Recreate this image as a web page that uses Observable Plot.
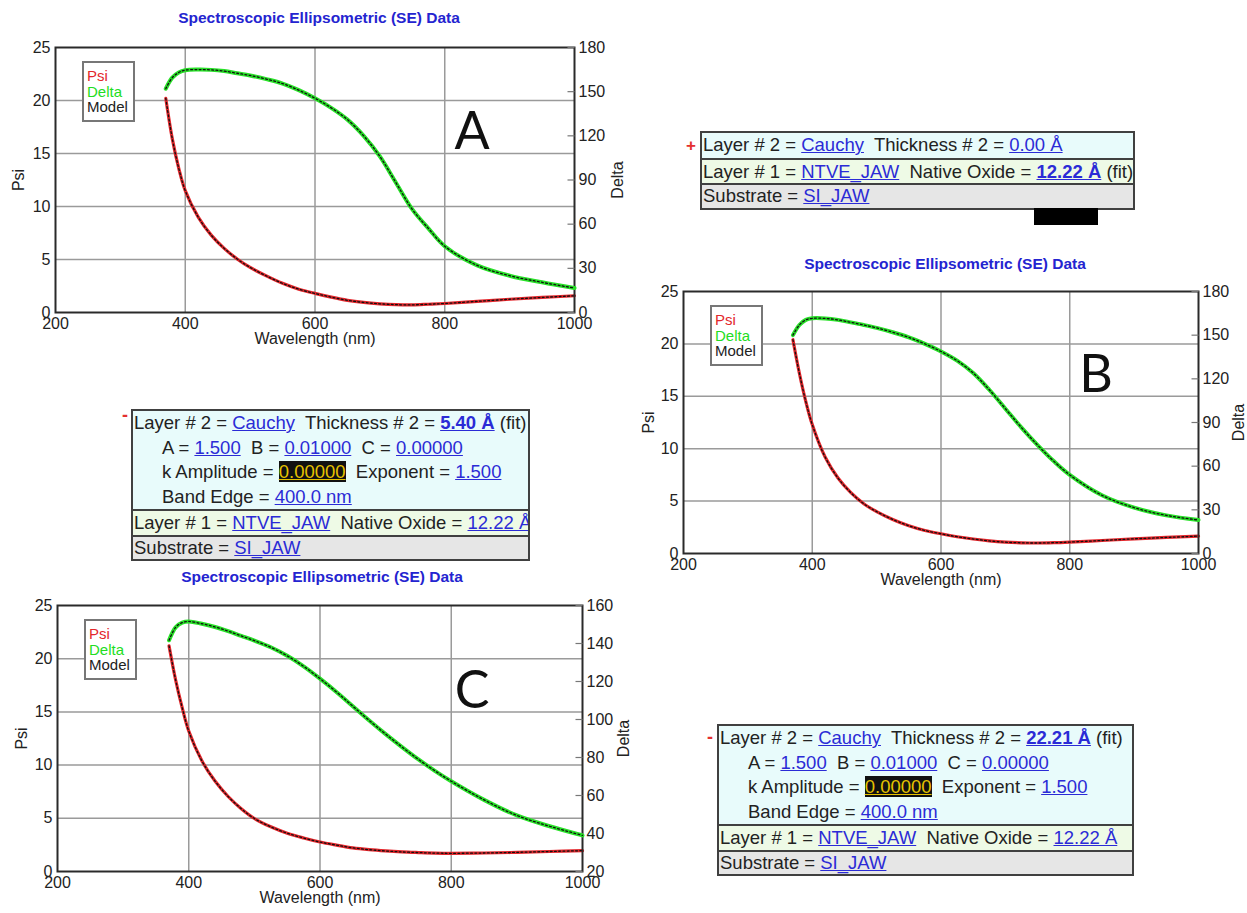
<!DOCTYPE html>
<html><head><meta charset="utf-8">
<script src="https://cdn.jsdelivr.net/npm/d3@7"></script>
<script src="https://cdn.jsdelivr.net/npm/@observablehq/plot@0.6"></script>
<style>
body{margin:0;background:#fff;width:1247px;height:913px;overflow:hidden;position:relative;font-family:"Liberation Sans",Arial,sans-serif;}
.panel{position:absolute}
.panel svg{position:absolute;left:0;top:0}
.title{position:absolute;transform:translate(-50%,-50%);color:#2424d0;font-weight:bold;font-size:15.5px;white-space:nowrap;line-height:1}
.legend{position:absolute;border:2px solid #777;background:#fff;font-size:15px;line-height:15.5px;padding:5px 5px 5px 3px;white-space:nowrap}
.letter{position:absolute;font-family:Lato,"Open Sans",sans-serif;font-size:52px;line-height:1;transform:translate(-50%,-50%);color:#111}
.box{position:absolute;border:2px solid #404040;font-size:18.5px;color:#222;overflow:hidden}
.row{white-space:pre;padding-left:1px;line-height:23px}
.l2 .row{line-height:24.5px}
.l2{background:#e8fbfb}
.l1{background:#eefae6;border-top:2px solid #404040}
.l1 .row{line-height:23.5px}
.sub{background:#e6e6e6;border-top:2px solid #404040}
.sub .row{line-height:22.5px}
.lk{color:#2b2bd6;text-decoration:underline}
.ind{padding-left:29px}
.hl{background:#111;color:#e6c200;text-decoration:underline}
.mark{position:absolute;color:#e43030;font-weight:bold;transform:translate(-50%,-50%);line-height:1}
</style>
</head><body>
<script>
// ---------- data ----------
const wavelength = [370,380,390,400,420,440,460,480,500,525,550,575,600,625,650,675,700,725,750,775,800,850,900,950,1000];
const psiA   = [20.2,16.4,13.6,11.5,9.0,7.3,6.05,5.05,4.25,3.45,2.75,2.2,1.8,1.45,1.15,0.95,0.82,0.74,0.72,0.78,0.85,1.05,1.25,1.42,1.58];
const deltaA = [152,159.5,163,164.6,165,164.8,164,162.5,161,158.5,155.5,151,145.5,139,131,120,106,88,70,57,45,32,25,20.5,16.6];
const psiB   = [20.4,17.2,14.5,12.3,9.2,7.2,5.8,4.75,4.0,3.25,2.65,2.2,1.88,1.6,1.38,1.2,1.08,1.02,1.0,1.03,1.09,1.24,1.4,1.53,1.66];
const deltaB = [150,157,160.5,161.6,161.5,160.5,158.8,157,155,152,148.5,144,138.8,132.5,124,112.5,99.5,86.5,74.5,63.5,54,40,31.5,26.2,23];
const psiC   = [21.2,18.0,15.4,13.2,10.4,8.5,7.05,5.9,4.98,4.2,3.6,3.15,2.77,2.48,2.22,2.05,1.93,1.84,1.78,1.73,1.71,1.74,1.8,1.88,1.96];
const deltaC = [141.7,148.5,151,151.6,150.4,148.7,146.5,144,141.5,138,133.5,128,121.5,114.5,107,99.5,92.3,85.5,79,73,67.5,57.7,49.5,43.8,39];

const xTicks = [200,400,600,800,1000];
const xGrid = [400,600,800];
const psiTicks = [0,5,10,15,20,25];
const psiGrid = [5,10,15,20];
const deltaTicksAB = [0,30,60,90,120,150,180];
const deltaTicksC = [20,40,60,80,100,120,140,160];
const legendLabels = ["Psi","Delta","Model"];
const legendColors = ["#e3262b","#22dd22","#222"];
const chartTitle = "Spectroscopic Ellipsometric (SE) Data";

// ---------- drawing ----------
const style = {background:"transparent", fontSize:"16px", fontFamily:"Liberation Sans, Arial, sans-serif", color:"#222", overflow:"visible"};
const fmt = d => String(d);
// short inward tick at the right edge of the frame
const inwardTick = {draw(ctx){ ctx.moveTo(-7,0); ctx.lineTo(0,0); }};

function panel(cfg){
  const rows = wavelength.map((w,i)=>({wl:w, psi:cfg.psi[i], delta:cfg.delta[i]}));
  const div = document.createElement("div");
  div.className = "panel";
  div.style.left = cfg.left+"px"; div.style.top = cfg.top+"px";
  div.style.width = cfg.width+"px"; div.style.height = cfg.height+"px";
  const common = {width:cfg.width, height:cfg.height, marginLeft:cfg.ml, marginRight:cfg.mr, marginTop:cfg.mt, marginBottom:cfg.mb, style};
  const psiPlot = Plot.plot({...common,
    x:{domain:[200,1000]}, y:{domain:[0,25]},
    marks:[
      Plot.gridX(xGrid, {stroke:"#9a9a9a", strokeOpacity:1, strokeWidth:1.5}),
      Plot.gridY(psiGrid, {stroke:"#9a9a9a", strokeOpacity:1, strokeWidth:1.5}),
      Plot.line(rows, {x:"wl", y:"psi", stroke:"#e3262b", strokeWidth:3.2, curve:"catmull-rom"}),
      Plot.line(rows, {x:"wl", y:"psi", stroke:"#111", strokeWidth:1.3, strokeDasharray:"1.8,2.4", curve:"catmull-rom"}),
      Plot.frame({stroke:"#2a2a2a", strokeWidth:2}),
      Plot.axisX(xTicks, {tickSize:0, tickPadding:5, tickFormat:fmt, label:"Wavelength (nm)", labelArrow:"none", labelAnchor:"center", labelOffset:31}),
      Plot.axisY(psiTicks, {anchor:"left", tickSize:0, tickPadding:5, tickFormat:fmt, label:"Psi", labelArrow:"none", labelAnchor:"center", labelOffset:cfg.psiOff})
    ]});
  const deltaPlot = Plot.plot({...common,
    x:{domain:[200,1000], axis:null}, y:{domain:cfg.deltaDomain},
    marks:[
      Plot.dot(cfg.deltaTicks, {y:d=>d, frameAnchor:"right", symbol:inwardTick, stroke:"#777", strokeWidth:1.2, fill:"none", r:3}),
      Plot.line(rows, {x:"wl", y:"delta", stroke:"#28e028", strokeWidth:4, curve:"catmull-rom"}),
      Plot.line(rows, {x:"wl", y:"delta", stroke:"#111", strokeWidth:1.3, strokeDasharray:"1.8,2.4", curve:"catmull-rom"}),
      Plot.axisY(cfg.deltaTicks, {anchor:"right", tickSize:0, tickPadding:4, tickFormat:fmt, label:"Delta", labelArrow:"none", labelAnchor:"center", labelOffset:cfg.deltaOff})
    ]});
  div.appendChild(psiPlot);
  div.appendChild(deltaPlot);
  document.body.appendChild(div);

  const t = document.createElement("div");
  t.className = "title"; t.textContent = chartTitle;
  t.style.left = cfg.titleX+"px"; t.style.top = cfg.titleY+"px";
  document.body.appendChild(t);

  const lg = document.createElement("div");
  lg.className = "legend";
  lg.style.left = (cfg.left+cfg.ml+27)+"px"; lg.style.top = (cfg.top+cfg.mt+14)+"px";
  lg.innerHTML = legendLabels.map((l,i)=>`<div style="color:${legendColors[i]}">${l}</div>`).join("");
  document.body.appendChild(lg);

  const L = document.createElement("div");
  L.className = "letter"; L.textContent = cfg.letter;
  L.style.left = cfg.letterX+"px"; L.style.top = cfg.letterY+"px";
  document.body.appendChild(L);
}

panel({left:0, top:0, width:640, height:350, ml:55, mr:66, mt:47, mb:38,
  psi:psiA, delta:deltaA, deltaDomain:[0,180], deltaTicks:deltaTicksAB, psiOff:43, deltaOff:48,
  titleX:319, titleY:18, letter:"A", letterX:472, letterY:129});
panel({left:630, top:245, width:617, height:355, ml:53, mr:49, mt:46, mb:47,
  psi:psiB, delta:deltaB, deltaDomain:[0,180], deltaTicks:deltaTicksAB, psiOff:41, deltaOff:45,
  titleX:945, titleY:264, letter:"B", letterX:1096, letterY:372});
panel({left:0, top:560, width:650, height:353, ml:57, mr:68, mt:45, mb:42,
  psi:psiC, delta:deltaC, deltaDomain:[20,160], deltaTicks:deltaTicksC, psiOff:42, deltaOff:46,
  titleX:322, titleY:577, letter:"C", letterX:472, letterY:688});

// ---------- layer boxes ----------
function lk(s,b){return b?`<b class="lk">${s}</b>`:`<span class="lk">${s}</span>`;}
function box(left, top, width, layer2Lines, layer1, substrate){
  const d = document.createElement("div");
  d.className = "box";
  d.style.left = left+"px"; d.style.top = top+"px"; d.style.width = width+"px";
  d.innerHTML = `<div class="l2">${layer2Lines.map(l=>`<div class="row${l.ind?' ind':''}">${l.html}</div>`).join("")}</div>`+
    `<div class="l1"><div class="row">${layer1}</div></div>`+
    `<div class="sub"><div class="row">${substrate}</div></div>`;
  document.body.appendChild(d);
}
function mark(ch, x, y, size){
  const m = document.createElement("div");
  m.className = "mark"; m.textContent = ch;
  m.style.left = x+"px"; m.style.top = y+"px"; m.style.fontSize = size+"px";
  document.body.appendChild(m);
}

box(700, 131, 431,
  [{html:`Layer # 2 = ${lk("Cauchy")}  Thickness # 2 = ${lk("0.00 Å")}`}],
  `Layer # 1 = ${lk("NTVE_JAW")}  Native Oxide = ${lk("12.22 Å",true)} (fit)`,
  `Substrate = ${lk("SI_JAW")}`);
mark("+", 691, 145, 17);
const blk = document.createElement("div");
blk.style.cssText = "position:absolute;left:1034px;top:208px;width:64px;height:17px;background:#000";
document.body.appendChild(blk);

const cauchyLines = (thk)=>[
  {html:`Layer # 2 = ${lk("Cauchy")}  Thickness # 2 = ${lk(thk,true)} (fit)`},
  {ind:true, html:`A = ${lk("1.500")}  B = ${lk("0.01000")}  C = ${lk("0.00000")}`},
  {ind:true, html:`k Amplitude = <span class="hl">0.00000</span>  Exponent = ${lk("1.500")}`},
  {ind:true, html:`Band Edge = ${lk("400.0 nm")}`}
];
box(131, 409, 395, cauchyLines("5.40 Å"),
  `Layer # 1 = ${lk("NTVE_JAW")}  Native Oxide = ${lk("12.22 Å")}`,
  `Substrate = ${lk("SI_JAW")}`);
mark("-", 125, 415, 18);
box(717, 724, 413, cauchyLines("22.21 Å"),
  `Layer # 1 = ${lk("NTVE_JAW")}  Native Oxide = ${lk("12.22 Å")}`,
  `Substrate = ${lk("SI_JAW")}`);
mark("-", 710, 737, 18);
</script>
</body></html>
